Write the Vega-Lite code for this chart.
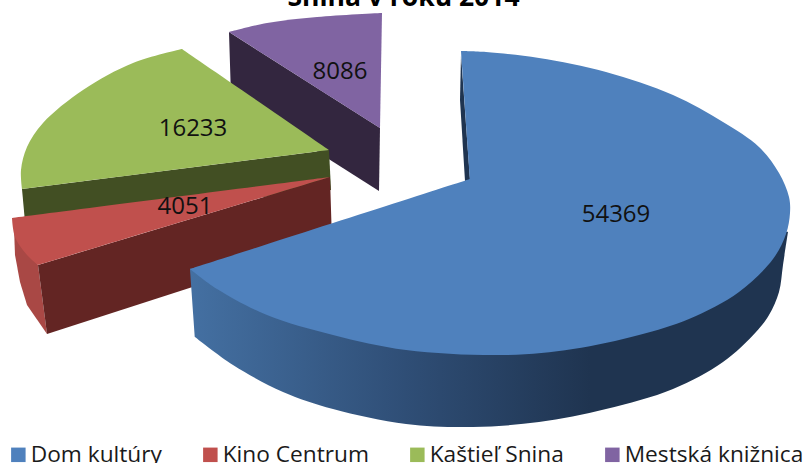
{"$schema":"https://vega.github.io/schema/vega-lite/v6.json","width":812,"height":463,"padding":0,"autosize":{"type":"none"},"background":"white","view":{"stroke":null},
"config":{"font":"Open Sans"},
"datasets":{
"labels":[{"series":"Dom kultúry","value":54369,"lx":616,"ly":215},{"series":"Kino Centrum","value":4051,"lx":185,"ly":207},{"series":"Kaštieľ Snina","value":16233,"lx":193,"ly":129},{"series":"Mestská knižnica","value":8086,"lx":340,"ly":72}],
"heading":[{"t":"Snina v roku 2014","lx":403.5,"ly":-2}],
"outlines":[
{"piece":"purpleSide","i":1,"x":229,"y":32},{"piece":"purpleSide","i":2,"x":380,"y":128},{"piece":"purpleSide","i":3,"x":379,"y":191},{"piece":"purpleSide","i":4,"x":231,"y":97},
{"piece":"purpleTop","series":"Mestská knižnica","i":1,"x":229,"y":32},{"piece":"purpleTop","series":"Mestská knižnica","i":2,"x":229,"y":32},{"piece":"purpleTop","series":"Mestská knižnica","i":3,"x":267,"y":23},{"piece":"purpleTop","series":"Mestská knižnica","i":4,"x":317,"y":17},{"piece":"purpleTop","series":"Mestská knižnica","i":5,"x":382,"y":13},{"piece":"purpleTop","series":"Mestská knižnica","i":6,"x":382,"y":13},{"piece":"purpleTop","series":"Mestská knižnica","i":7,"x":380,"y":128},{"piece":"purpleTop","series":"Mestská knižnica","i":8,"x":380,"y":128},{"piece":"purpleTop","series":"Mestská knižnica","i":9,"x":229,"y":32},{"piece":"purpleTop","series":"Mestská knižnica","i":10,"x":229,"y":32},
{"piece":"greenSide","i":1,"x":22,"y":189},{"piece":"greenSide","i":2,"x":329,"y":150},{"piece":"greenSide","i":3,"x":331,"y":190},{"piece":"greenSide","i":4,"x":25,"y":222},
{"piece":"greenTop","series":"Kaštieľ Snina","i":1,"x":329,"y":150},{"piece":"greenTop","series":"Kaštieľ Snina","i":2,"x":329,"y":150},{"piece":"greenTop","series":"Kaštieľ Snina","i":3,"x":182,"y":49},{"piece":"greenTop","series":"Kaštieľ Snina","i":4,"x":182,"y":49},{"piece":"greenTop","series":"Kaštieľ Snina","i":5,"x":133,"y":63},{"piece":"greenTop","series":"Kaštieľ Snina","i":6,"x":83,"y":90},{"piece":"greenTop","series":"Kaštieľ Snina","i":7,"x":43,"y":123},{"piece":"greenTop","series":"Kaštieľ Snina","i":8,"x":27,"y":147},{"piece":"greenTop","series":"Kaštieľ Snina","i":9,"x":21,"y":170},{"piece":"greenTop","series":"Kaštieľ Snina","i":10,"x":22,"y":189},{"piece":"greenTop","series":"Kaštieľ Snina","i":11,"x":22,"y":189},{"piece":"greenTop","series":"Kaštieľ Snina","i":12,"x":329,"y":150},{"piece":"greenTop","series":"Kaštieľ Snina","i":13,"x":329,"y":150},
{"piece":"redOuter","i":1,"x":14,"y":228},{"piece":"redOuter","i":2,"x":38,"y":265},{"piece":"redOuter","i":3,"x":47,"y":334},{"piece":"redOuter","i":4,"x":27,"y":305},{"piece":"redOuter","i":5,"x":20,"y":282},{"piece":"redOuter","i":6,"x":15,"y":255},
{"piece":"redSide","i":1,"x":330,"y":177},{"piece":"redSide","i":2,"x":38,"y":265},{"piece":"redSide","i":3,"x":47,"y":334},{"piece":"redSide","i":4,"x":332,"y":242},
{"piece":"redTop","series":"Kino Centrum","i":1,"x":330,"y":177},{"piece":"redTop","series":"Kino Centrum","i":2,"x":330,"y":177},{"piece":"redTop","series":"Kino Centrum","i":3,"x":12,"y":218},{"piece":"redTop","series":"Kino Centrum","i":4,"x":12,"y":218},{"piece":"redTop","series":"Kino Centrum","i":5,"x":15,"y":237},{"piece":"redTop","series":"Kino Centrum","i":6,"x":27,"y":255},{"piece":"redTop","series":"Kino Centrum","i":7,"x":38,"y":265},{"piece":"redTop","series":"Kino Centrum","i":8,"x":38,"y":265},{"piece":"redTop","series":"Kino Centrum","i":9,"x":330,"y":177},{"piece":"redTop","series":"Kino Centrum","i":10,"x":330,"y":177},
{"piece":"blueSide","i":1,"x":190,"y":269},{"piece":"blueSide","i":2,"x":190,"y":269},{"piece":"blueSide","i":3,"x":195,"y":337},{"piece":"blueSide","i":4,"x":195,"y":337},{"piece":"blueSide","i":5,"x":233,"y":365},{"piece":"blueSide","i":6,"x":283,"y":392},{"piece":"blueSide","i":7,"x":333,"y":409},{"piece":"blueSide","i":8,"x":406,"y":424},{"piece":"blueSide","i":9,"x":473,"y":427},{"piece":"blueSide","i":10,"x":539,"y":422},{"piece":"blueSide","i":11,"x":606,"y":409},{"piece":"blueSide","i":12,"x":673,"y":389},{"piece":"blueSide","i":13,"x":723,"y":362},{"piece":"blueSide","i":14,"x":756,"y":332},{"piece":"blueSide","i":15,"x":769,"y":315},{"piece":"blueSide","i":16,"x":779,"y":292},{"piece":"blueSide","i":17,"x":783,"y":265},{"piece":"blueSide","i":18,"x":788,"y":232},{"piece":"blueSide","i":19,"x":788,"y":232},{"piece":"blueSide","i":20,"x":500,"y":200},{"piece":"blueSide","i":21,"x":500,"y":200},{"piece":"blueSide","i":22,"x":190,"y":269},{"piece":"blueSide","i":23,"x":190,"y":269},
{"piece":"blueSliver","i":1,"x":461,"y":55},{"piece":"blueSliver","i":2,"x":460,"y":100},{"piece":"blueSliver","i":3,"x":465,"y":181},{"piece":"blueSliver","i":4,"x":470,"y":180},
{"piece":"blueTop","series":"Dom kultúry","i":1,"x":470,"y":179},{"piece":"blueTop","series":"Dom kultúry","i":2,"x":470,"y":179},{"piece":"blueTop","series":"Dom kultúry","i":3,"x":461,"y":51},{"piece":"blueTop","series":"Dom kultúry","i":4,"x":461,"y":51},{"piece":"blueTop","series":"Dom kultúry","i":5,"x":486,"y":52},{"piece":"blueTop","series":"Dom kultúry","i":6,"x":539,"y":58},{"piece":"blueTop","series":"Dom kultúry","i":7,"x":606,"y":72},{"piece":"blueTop","series":"Dom kultúry","i":8,"x":673,"y":95},{"piece":"blueTop","series":"Dom kultúry","i":9,"x":723,"y":122},{"piece":"blueTop","series":"Dom kultúry","i":10,"x":759,"y":147},{"piece":"blueTop","series":"Dom kultúry","i":11,"x":779,"y":173},{"piece":"blueTop","series":"Dom kultúry","i":12,"x":789,"y":197},{"piece":"blueTop","series":"Dom kultúry","i":13,"x":790,"y":213},{"piece":"blueTop","series":"Dom kultúry","i":14,"x":786,"y":234},{"piece":"blueTop","series":"Dom kultúry","i":15,"x":773,"y":259},{"piece":"blueTop","series":"Dom kultúry","i":16,"x":739,"y":292},{"piece":"blueTop","series":"Dom kultúry","i":17,"x":689,"y":319},{"piece":"blueTop","series":"Dom kultúry","i":18,"x":639,"y":335},{"piece":"blueTop","series":"Dom kultúry","i":19,"x":573,"y":349},{"piece":"blueTop","series":"Dom kultúry","i":20,"x":506,"y":355},{"piece":"blueTop","series":"Dom kultúry","i":21,"x":406,"y":350},{"piece":"blueTop","series":"Dom kultúry","i":22,"x":333,"y":335},{"piece":"blueTop","series":"Dom kultúry","i":23,"x":267,"y":315},{"piece":"blueTop","series":"Dom kultúry","i":24,"x":217,"y":289},{"piece":"blueTop","series":"Dom kultúry","i":25,"x":190,"y":269},{"piece":"blueTop","series":"Dom kultúry","i":26,"x":190,"y":269},{"piece":"blueTop","series":"Dom kultúry","i":27,"x":470,"y":179},{"piece":"blueTop","series":"Dom kultúry","i":28,"x":470,"y":179}
]},
"data":{"name":"outlines"},
"encoding":{
"x":{"field":"x","type":"quantitative","scale":{"domain":[0,812],"nice":false,"zero":false},"axis":null},
"y":{"field":"y","type":"quantitative","scale":{"domain":[463,0],"nice":false,"zero":false},"axis":null},
"order":{"field":"i","type":"quantitative"}},
"layer":[
{"transform":[{"filter":"datum.piece==='purpleSide'"}],"mark":{"type":"line","fill":"#33263f","strokeWidth":0}},
{"transform":[{"filter":"datum.piece==='purpleTop'"}],"mark":{"type":"line","strokeWidth":0,"interpolate":"catmull-rom"},"encoding":{"fill":{"field":"series","type":"nominal"}}},
{"transform":[{"filter":"datum.piece==='greenSide'"}],"mark":{"type":"line","fill":"#424f23","strokeWidth":0}},
{"transform":[{"filter":"datum.piece==='greenTop'"}],"mark":{"type":"line","strokeWidth":0,"interpolate":"catmull-rom"},"encoding":{"fill":{"field":"series","type":"nominal"}}},
{"transform":[{"filter":"datum.piece==='redOuter'"}],"mark":{"type":"line","fill":"#a94845","strokeWidth":0}},
{"transform":[{"filter":"datum.piece==='redSide'"}],"mark":{"type":"line","fill":"#632523","strokeWidth":0}},
{"transform":[{"filter":"datum.piece==='redTop'"}],"mark":{"type":"line","strokeWidth":0,"interpolate":"catmull-rom"},"encoding":{"fill":{"field":"series","type":"nominal"}}},
{"transform":[{"filter":"datum.piece==='blueSide'"}],"mark":{"type":"line","strokeWidth":0,"interpolate":"catmull-rom","fill":{"gradient":"linear","x1":0,"y1":0,"x2":1,"y2":0,"stops":[{"offset":0,"color":"#4470a2"},{"offset":0.36,"color":"#2f4e76"},{"offset":0.67,"color":"#1f3450"},{"offset":1,"color":"#1f3450"}]}}},
{"transform":[{"filter":"datum.piece==='blueSliver'"}],"mark":{"type":"line","fill":"#1f3450","strokeWidth":0}},
{"transform":[{"filter":"datum.piece==='blueTop'"}],"mark":{"type":"line","strokeWidth":0,"interpolate":"catmull-rom"},"encoding":{"fill":{"field":"series","type":"nominal","title":null,"scale":{"domain":["Dom kultúry","Kino Centrum","Kaštieľ Snina","Mestská knižnica"],"range":["#4f81bd","#c0504d","#9bbb59","#8064a2"]},"legend":{"orient":"none","legendX":7,"legendY":443,"direction":"horizontal","columns":4,"padding":0,"columnPadding":37,"symbolType":"square","symbolSize":210,"symbolStrokeWidth":0,"labelFont":"Open Sans","labelFontSize":22.7,"labelColor":"#1a1a1a","labelLimit":300,"labelOffset":1}}}},
{"data":{"name":"labels"},"mark":{"type":"text","font":"Open Sans","fontSize":24,"color":"#111111","align":"center","baseline":"middle"},"encoding":{"x":{"field":"lx","type":"quantitative"},"y":{"field":"ly","type":"quantitative"},"text":{"field":"value","type":"quantitative","format":"d"},"order":null}},
{"data":{"name":"heading"},"mark":{"type":"text","font":"Open Sans","fontSize":26.5,"fontWeight":"bold","color":"black","align":"center","baseline":"middle"},"encoding":{"x":{"field":"lx","type":"quantitative"},"y":{"field":"ly","type":"quantitative"},"text":{"field":"t"},"order":null}}
]}
